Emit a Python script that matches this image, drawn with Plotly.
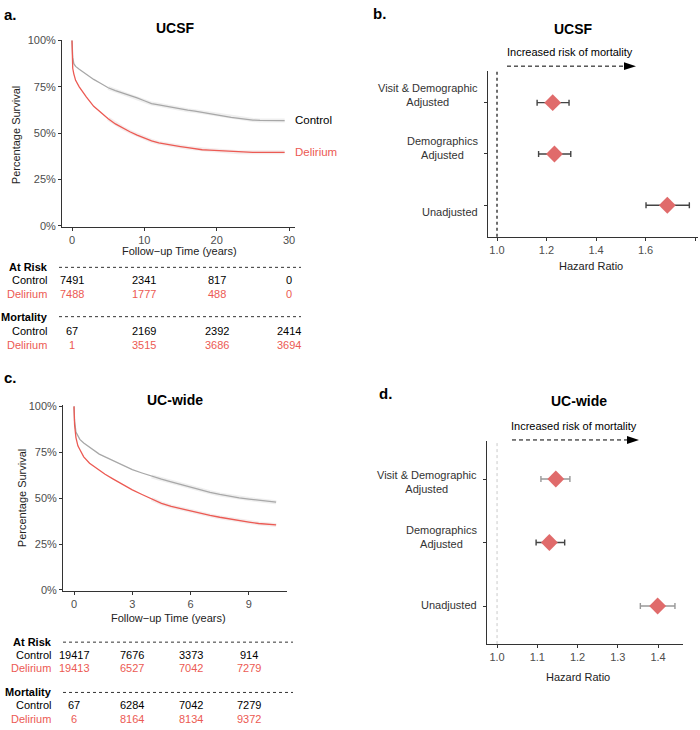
import plotly.graph_objects as go

# ---------------- DATA ----------------
ucsf_time = [0, 0.05, 0.1, 0.25, 0.5, 1, 1.5, 2, 3, 4, 5, 6, 7, 8, 9, 10, 11, 12, 13, 14,
             15, 16, 17, 18, 19, 20, 21, 22, 23, 24, 25, 26, 27, 28, 29.4]
ucsf_control = [100, 95, 91, 87.5, 86, 84.5, 83, 81.5, 79, 76.8, 74.5, 73, 71.8, 70.5, 69, 67.5,
                66, 65.3, 64.5, 63.7, 63, 62.4, 61.9, 61.3, 60.6, 60, 59.2, 58.5, 57.9, 57.4,
                57.1, 56.9, 56.8, 56.8, 56.8]
ucsf_delirium = [100, 90, 85, 82, 78.5, 75, 72, 69.5, 64.5, 61, 57.8, 55, 52.8, 50.8, 49, 47.3,
                 45.9, 44.8, 44, 43.3, 42.8, 42.2, 41.6, 41.1, 40.9, 40.7, 40.3, 40, 39.8, 39.7,
                 39.7, 39.7, 39.7, 39.7, 39.7]

ucw_time = [0, 0.03, 0.1, 0.2, 0.3, 0.5, 0.8, 1, 1.3, 1.6, 2, 2.5, 3, 3.5, 4, 4.5, 5, 5.5, 6,
            6.5, 7, 7.5, 8, 8.5, 9, 9.5, 10, 10.4]
ucw_control = [100, 92, 86, 83.5, 82, 80, 77.6, 76, 74, 72.5, 70.5, 67.8, 65.5, 63.7, 61.8,
               60.3, 58.8, 57.3, 55.8, 54.5, 53.2, 52, 51, 50.2, 49.5, 48.9, 48.4, 47.8]
ucw_delirium = [100, 90, 83, 78.5, 76.5, 72.5, 69, 67.5, 65, 63, 60.5, 57.3, 54.5, 52, 49.5,
                47.2, 45.5, 44.2, 43.2, 42, 40.6, 39.6, 38.6, 37.8, 37, 36.2, 35.8, 35.4]

ucsf_ticks = [0, 10, 20, 30]
ucw_ticks = [0, 3, 6, 9]
surv_ticks = [0, 25, 50, 75, 100]
surv_labels = ["0%", "25%", "50%", "75%", "100%"]

ucsf_risk_control = ["7491", "2341", "817", "0"]
ucsf_risk_delirium = ["7488", "1777", "488", "0"]
ucsf_mort_control = ["67", "2169", "2392", "2414"]
ucsf_mort_delirium = ["1", "3515", "3686", "3694"]

ucw_risk_control = ["19417", "7676", "3373", "914"]
ucw_risk_delirium = ["19413", "6527", "7042", "7279"]
ucw_mort_control = ["67", "6284", "7042", "7279"]
ucw_mort_delirium = ["6", "8164", "8134", "9372"]

models = ["Visit & Demographic<br>Adjusted", "Demographics<br>Adjusted", "Unadjusted"]
model_pos = [2, 1, 0]
ucsf_hr = [1.225, 1.232, 1.688]
ucsf_lo = [1.162, 1.168, 1.602]
ucsf_hi = [1.291, 1.298, 1.777]
ucw_hr = [1.146, 1.130, 1.399]
ucw_lo = [1.109, 1.097, 1.356]
ucw_hi = [1.181, 1.168, 1.442]
ucsf_hr_ticks = [1.0, 1.2, 1.4, 1.6, 1.8]
ucw_hr_ticks = [1.0, 1.1, 1.2, 1.3, 1.4]

# ---------------- STYLE ----------------
FONT = "Liberation Sans, Arial, Helvetica, sans-serif"
RED = "#EC5A53"
GREY = "#A8A8A8"
DIAMOND = "#E06B6B"
AXC = "#333333"
TICKC = "#4d4d4d"


def px(x):
    return x / 700.0


def py(y):
    return 1 - y / 730.0


fig = go.Figure()


def km(xa, ya, t, c, d, start_idx):
    # light ribbon-like halo
    for vals, col in ((c, "rgba(180,180,180,0.22)"), (d, "rgba(210,170,170,0.22)")):
        fig.add_trace(go.Scatter(x=t[start_idx:], y=vals[start_idx:], mode="lines",
                                 line=dict(color=col, width=4), xaxis=xa, yaxis=ya,
                                 hoverinfo="skip", showlegend=False))
    fig.add_trace(go.Scatter(x=t, y=c, mode="lines", line=dict(color=GREY, width=1.3),
                             xaxis=xa, yaxis=ya, showlegend=False, name="Control"))
    fig.add_trace(go.Scatter(x=t, y=d, mode="lines", line=dict(color=RED, width=1.3),
                             xaxis=xa, yaxis=ya, showlegend=False, name="Delirium"))


km("x", "y", ucsf_time, ucsf_control, ucsf_delirium, 10)
km("x3", "y3", ucw_time, ucw_control, ucw_delirium, 14)


def forest(xa, ya, hr, lo, hi, barcols):
    for i in range(len(hr)):
        fig.add_trace(go.Scatter(
            x=[hr[i]], y=[model_pos[i]], mode="markers",
            marker=dict(symbol="diamond", size=13, color=DIAMOND, line=dict(width=0)),
            error_x=dict(type="data", symmetric=False, array=[hi[i] - hr[i]],
                         arrayminus=[hr[i] - lo[i]], color=barcols[i], thickness=1.4, width=3),
            xaxis=xa, yaxis=ya, showlegend=False))


forest("x2", "y2", ucsf_hr, ucsf_lo, ucsf_hi, ["#444444", "#444444", "#444444"])
forest("x4", "y4", ucw_hr, ucw_lo, ucw_hi, ["#999999", "#444444", "#999999"])

axis_common = dict(showline=True, linecolor=AXC, linewidth=1, ticks="outside", ticklen=3,
                   tickcolor=AXC, tickwidth=1, showgrid=False, zeroline=False,
                   tickfont=dict(family=FONT, size=11, color=TICKC), fixedrange=True)

fig.update_layout(
    width=700, height=730, margin=dict(l=0, r=0, t=0, b=0),
    paper_bgcolor="white", plot_bgcolor="white", showlegend=False,
    font=dict(family=FONT, size=11, color="black"),
    xaxis=dict(domain=[px(62), px(295)], range=[-1.382, 30.83], tickvals=ucsf_ticks,
               anchor="y", **axis_common),
    yaxis=dict(domain=[py(225), py(35)], range=[-0.5, 100.5], tickmode="array",
               tickvals=surv_ticks, ticktext=surv_labels, anchor="x", **axis_common),
    xaxis2=dict(domain=[px(488), px(698)], range=[0.9636, 1.812], tickvals=ucsf_hr_ticks,
                tickformat=".1f", anchor="y2", **axis_common),
    yaxis2=dict(domain=[py(235), py(67)], range=[-0.615, 2.615], tickvals=model_pos,
                showticklabels=False, anchor="x2", **axis_common),
    xaxis3=dict(domain=[px(63), px(287)], range=[-0.566, 10.96], tickvals=ucw_ticks,
                anchor="y3", **axis_common),
    yaxis3=dict(domain=[py(594), py(406)], range=[-0.5, 100.5], tickmode="array",
                tickvals=surv_ticks, ticktext=surv_labels, anchor="x3", **axis_common),
    xaxis4=dict(domain=[px(487), px(683)], range=[0.975, 1.462], tickvals=ucw_hr_ticks,
                tickformat=".1f", anchor="y4", **axis_common),
    yaxis4=dict(domain=[py(648), py(442)], range=[-0.6, 2.6], tickvals=model_pos,
                showticklabels=False, anchor="x4", **axis_common),
)

ann = []
shapes = []


def text(x, y, t, size=11, color="black", bold=False, xanchor="center", angle=0,
         xref="paper", yref="paper", yshift=0):
    if bold:
        t = "<b>" + t + "</b>"
    ann.append(dict(x=x, y=y, xref=xref, yref=yref, text=t, showarrow=False,
                    xanchor=xanchor, yanchor="middle", textangle=angle, yshift=yshift,
                    font=dict(family=FONT, size=size, color=color)))


# panel letters and titles
text(px(2), py(10), "a.", size=15, bold=True, xanchor="left")
text(px(371), py(9), "b.", size=15, bold=True, xanchor="left")
text(px(2), py(378), "c.", size=15, bold=True, xanchor="left")
text(px(377), py(394), "d.", size=15, bold=True, xanchor="left")
text(px(175), py(23), "UCSF", size=14, bold=True)
text(px(573), py(24), "UCSF", size=14, bold=True)
text(px(175), py(400), "UC-wide", size=14, bold=True)
text(px(579), py(401), "UC-wide", size=14, bold=True)

# axis titles
text(px(16), py(132), "Percentage Survival", angle=-90, color="#222")
text(px(22), py(500), "Percentage Survival", angle=-90, color="#222")
text(px(180), py(249), "Follow\u2212up Time (years)", color="#222")
text(px(168), py(622), "Follow\u2212up Time (years)", color="#222")
text(px(591), py(265), "Hazard Ratio", color="#222")
text(px(578), py(681), "Hazard Ratio", color="#222")

# curve end labels
text(30.5, 57, "Control", size=11.5, xanchor="left", xref="x", yref="y")
text(30.5, 40, "Delirium", size=11.5, color=RED, xanchor="left", xref="x", yref="y")
text(11.0, 46.3, "Control", size=11.5, xanchor="left", xref="x3", yref="y3")
text(11.0, 34.6, "Delirium", size=11.5, color=RED, xanchor="left", xref="x3", yref="y3")


# risk tables
def table(xref, ticks, rows_y, label_right, line_x, rc, rd, mc, md):
    ar, c1, d1, mo, c2, d2 = rows_y
    text(px(label_right), py(ar), "At Risk", bold=True, xanchor="right")
    text(px(label_right - 1), py(c1), "Control", xanchor="right")
    text(px(label_right - 1), py(d1), "Delirium", color=RED, xanchor="right")
    text(px(label_right), py(mo), "Mortality", bold=True, xanchor="right")
    text(px(label_right - 1), py(c2), "Control", xanchor="right")
    text(px(label_right - 1), py(d2), "Delirium", color=RED, xanchor="right")
    for yy in (ar, mo):
        shapes.append(dict(type="line", xref="paper", yref="paper", x0=px(line_x[0]),
                           x1=px(line_x[1]), y0=py(yy), y1=py(yy),
                           line=dict(color="#333", width=1, dash="3px,3px")))
    for i, t in enumerate(ticks):
        text(t, py(c1), rc[i], xref=xref)
        text(t, py(d1), rd[i], color=RED, xref=xref)
        text(t, py(c2), mc[i], xref=xref)
        text(t, py(d2), md[i], color=RED, xref=xref)


table("x", ucsf_ticks, (266, 279, 293, 316, 331, 345), 50, (59, 301),
      ucsf_risk_control, ucsf_risk_delirium, ucsf_mort_control, ucsf_mort_delirium)
table("x3", ucw_ticks, (646, 659, 672, 697, 710, 724), 54, (63, 293),
      ucw_risk_control, ucw_risk_delirium, ucw_mort_control, ucw_mort_delirium)

# forest labels
b_shift = [7.5, 6, -7]
d_shift = [-2.5, 5.5, 1]
for i, m in enumerate(models):
    text(px(480), model_pos[i], m, xanchor="right", color="#333", xref="paper", yref="y2",
         yshift=b_shift[i])
    text(px(479), model_pos[i], m, xanchor="right", color="#333", xref="paper", yref="y4",
         yshift=d_shift[i])

# reference lines
shapes.append(dict(type="line", xref="x2", yref="y2 domain", x0=1, x1=1, y0=0, y1=1,
                   line=dict(color="#222", width=1.3, dash="dot")))
shapes.append(dict(type="line", xref="x4", yref="y4 domain", x0=1, x1=1, y0=0, y1=1,
                   line=dict(color="#bbbbbb", width=0.8, dash="dot")))

# arrows
text(px(570), py(48), "Increased risk of mortality")
text(px(574), py(427), "Increased risk of mortality")
for (x0, x1, yy) in ((507, 624, 62), (512, 627, 441)):
    shapes.append(dict(type="line", xref="paper", yref="paper", x0=px(x0), x1=px(x1),
                       y0=py(yy), y1=py(yy), line=dict(color="black", width=1, dash="4px,3px")))
    shapes.append(dict(type="path", xref="paper", yref="paper",
                       path=f"M {px(x1)},{py(yy - 4)} L {px(x1 + 12)},{py(yy)} L {px(x1)},{py(yy + 4)} Z",
                       fillcolor="black", line=dict(color="black", width=0)))

fig.update_layout(annotations=ann, shapes=shapes)
fig.write_html("out.html")
